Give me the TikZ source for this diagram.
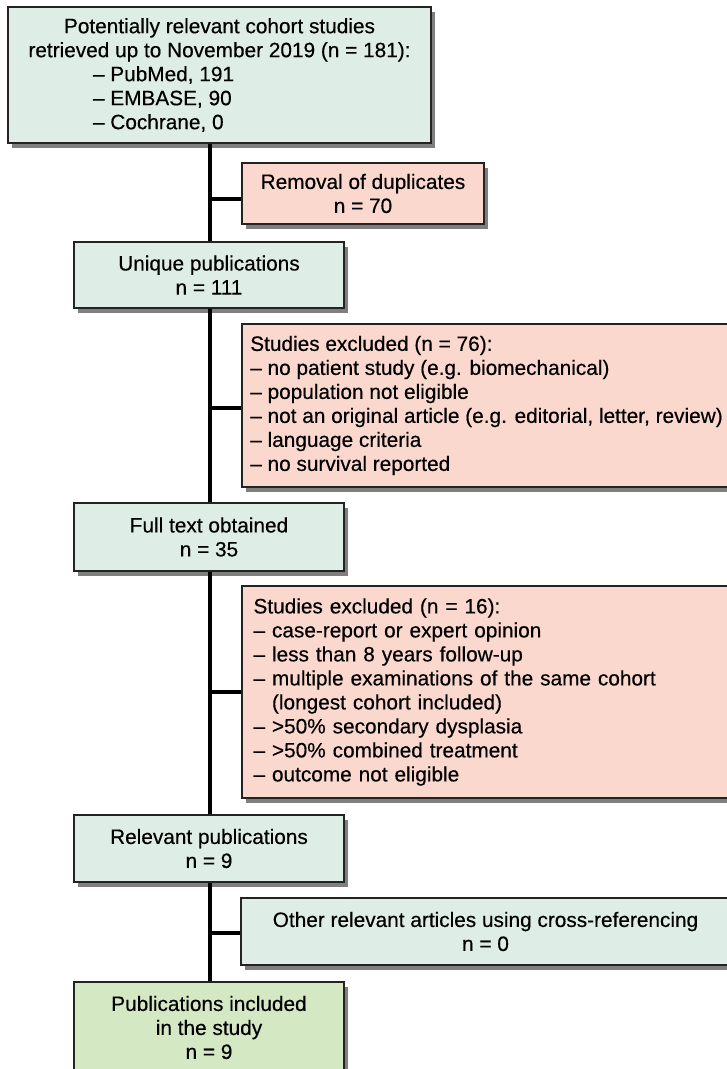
\documentclass[tikz,border=0pt]{standalone}
\usepackage{fontspec}
\setmainfont{Liberation Sans}[FakeBold=0.35]
\usetikzlibrary{shadows}
\definecolor{boxgreen}{RGB}{222,237,229}
\definecolor{boxpink}{RGB}{250,216,206}
\definecolor{boxfinal}{RGB}{213,232,196}
\definecolor{edgecol}{RGB}{35,35,35}
\begin{document}
\begin{tikzpicture}[x=1pt,y=-1pt,
  box/.style={draw=edgecol, line width=1.4pt, inner sep=0pt, align=center,
    font=\fontsize{20.8}{24}\selectfont,
    drop shadow={shadow xshift=4pt, shadow yshift=-5pt, opacity=0.5, fill=black}},
  gbox/.style={box, fill=boxgreen},
  pbox/.style={box, fill=boxpink},
  finalbox/.style={box, fill=boxfinal},
  spine/.style={line width=4pt, black},
]
\useasboundingbox (0,0) rectangle (727,1069);
\coordinate (sp) at (210,0);

\node[gbox, minimum width=423pt, minimum height=136pt] (b1) at (219.5,75)
  {Potentially relevant cohort studies\\retrieved up to November 2019 (n = 181):\\
   \makebox[253pt][l]{– PubMed, 191}\\\makebox[253pt][l]{– EMBASE, 90}\\\makebox[253pt][l]{– Cochrane, 0}};

\node[pbox, minimum width=242pt, minimum height=61pt] (b2) at (363,193.5)
  {Removal of duplicates\\n = 70};

\node[gbox, minimum width=270pt, minimum height=66pt] (b3) at (209,275)
  {Unique publications\\n = 111};

\node[pbox, minimum width=489pt, minimum height=163pt, align=left] (b4) at (486.5,405.5)
  {Studies excluded (n = 76):\\
   – no patient study (e.g. biomechanical)\\
   – population not eligible\\
   – not an original article (e.g. editorial, letter, review)\\
   – language criteria\\
   – no survival reported};

\node[gbox, minimum width=270pt, minimum height=68pt] (b5) at (209,537)
  {Full text obtained\\n = 35};

\node[pbox, minimum width=489pt, minimum height=212pt, text width=466pt, align=left] (b6) at (486.5,692)
  {Studies excluded (n = 16):\\
   – case-report or expert opinion\\
   – less than 8 years follow-up\\
   – multiple examinations of the same cohort\\
   \hphantom{–\ }(longest cohort included)\\
   – >50\% secondary dysplasia\\
   – >50\% combined treatment\\
   – outcome not eligible};

\node[gbox, minimum width=270pt, minimum height=67pt] (b7) at (209,848.5)
  {Relevant publications\\n = 9};

\node[gbox, minimum width=489pt, minimum height=67pt] (b8) at (485.5,931.5)
  {Other relevant articles using cross-referencing\\n = 0};

\node[finalbox, minimum width=270pt, minimum height=91pt] (b9) at (209,1027.5)
  {Publications included\\in the study\\n = 9};

\draw[spine] (b1.south -| sp) -- (b3.north -| sp);
\draw[spine] (b3.south -| sp) -- (b5.north -| sp);
\draw[spine] (b5.south -| sp) -- (b7.north -| sp);
\draw[spine] (b7.south -| sp) -- (b9.north -| sp);
\draw[spine] ([yshift=-5pt]b2.west -| sp) -- ([yshift=-5pt]b2.west);
\draw[spine] ([yshift=-2.5pt]b4.west -| sp) -- ([yshift=-2.5pt]b4.west);
\draw[spine] (b6.west -| sp) -- (b6.west);
\draw[spine] ([yshift=-1.5pt]b8.west -| sp) -- ([yshift=-1.5pt]b8.west);
\end{tikzpicture}
\end{document}
